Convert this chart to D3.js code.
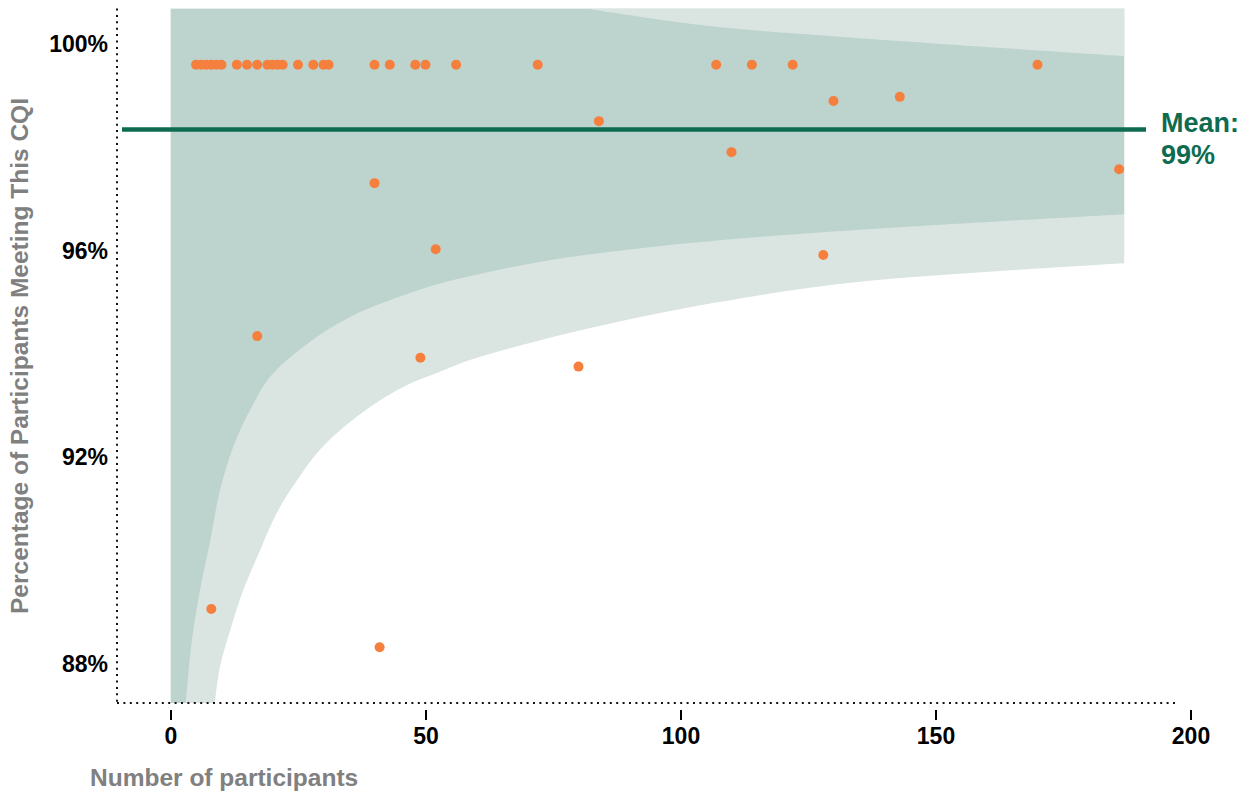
<!DOCTYPE html>
<html>
<head>
<meta charset="utf-8">
<script src="https://cdn.jsdelivr.net/npm/d3@7"></script>
<style>
  body { margin: 0; background: #fff; }
  svg { display: block; font-family: "Liberation Sans", Arial, sans-serif; }
</style>
</head>
<body>
<div id="chart"></div>
<script>
// axis ticks
const xTicks = [0, 50, 100, 150, 200]
const yTicks = [88, 92, 96, 100]

// mean line
const meanValue = 98.35
const meanLabel = ["Mean:", "99%"]

// one dot per site: participants and % meeting the CQI
const participants = [5, 6, 7, 8, 9, 10, 13, 15, 17, 19, 20, 21, 22, 25, 28, 30, 31, 40, 43, 48, 50, 56, 72, 107, 114, 122, 170,
    84, 40, 52, 17, 49, 80, 8, 41, 110, 130, 143, 128, 186]
const percentMeeting = [99.6, 99.6, 99.6, 99.6, 99.6, 99.6, 99.6, 99.6, 99.6, 99.6, 99.6, 99.6, 99.6, 99.6, 99.6, 99.6, 99.6,
    99.6, 99.6, 99.6, 99.6, 99.6, 99.6, 99.6, 99.6, 99.6, 99.6,
    98.51, 97.31, 96.03, 94.35, 93.93, 93.76, 89.07, 88.33, 97.91, 98.90, 98.98, 95.92, 97.58]

// funnel limits
const funnelStart = 0, funnelEnd = 187
const innerLowerN = [3.0, 4.2, 5.8, 7.8, 9.7, 12.3, 15.6, 19.5, 26.0, 35.2, 48.6, 52.8, 72.5, 92.1, 111.7, 135.2, 187]
const innerLowerPct = [87.25, 88.47, 89.44, 90.40, 91.37, 92.21, 92.92, 93.56, 94.14, 94.72, 95.24, 95.37, 95.79, 96.05, 96.24, 96.41, 96.71]
const outerLowerN = [8.7, 9.7, 11.7, 14.3, 17.6, 20.8, 24.8, 29.3, 36.5, 45.7, 52.8, 58.7, 72.5, 92.1, 111.7, 135.2, 187]
const outerLowerPct = [87.25, 87.95, 88.66, 89.44, 90.21, 90.92, 91.56, 92.15, 92.79, 93.37, 93.66, 93.89, 94.27, 94.72, 95.08, 95.40, 95.76]
const innerUpperN = [81.5, 105.6, 131.7, 187]
const innerUpperPct = [100.69, 100.35, 100.14, 99.77]

const W = 1253, H = 796
const x = d3.scaleLinear().domain([0, 200]).range([170.5, 1190.5])
const y = d3.scaleLinear().domain([87.25, 100.69]).range([703, 8.5])
const [yBot, yTop] = y.domain()

const svg = d3.select("#chart").append("svg").attr("width", W).attr("height", H)

svg.append("clipPath").attr("id", "plot").append("rect")
    .attr("x", x(0)).attr("y", y(yTop)).attr("width", x(200) - x(0)).attr("height", y(yBot) - y(yTop))

const funnel = svg.append("g").attr("clip-path", "url(#plot)")

function curvePath(ns, vs) {
    return d3.line().x(d => x(d[0])).y(d => y(d[1])).curve(d3.curveCatmullRom.alpha(0.5))(d3.zip(ns, vs))
}

// region above a lower limit, up to the top of the plot
function bandFromBottom(ns, vs) {
    return `M${x(funnelStart)},${y(yBot)}L` + curvePath(ns, vs).slice(1) +
        `L${x(funnelEnd)},${y(yTop)}L${x(funnelStart)},${y(yTop)}Z`
}

funnel.append("path").attr("d", bandFromBottom(outerLowerN, outerLowerPct)).attr("fill", "#dae5e1")
funnel.append("path").attr("d", bandFromBottom(innerLowerN, innerLowerPct)).attr("fill", "#bdd3cd")
funnel.append("path")
    .attr("d", curvePath(innerUpperN, innerUpperPct) + `L${x(funnelEnd)},${y(yTop)}Z`)
    .attr("fill", "#dae5e1")

// dotted axis lines
svg.append("line").attr("x1", 117).attr("x2", 117).attr("y1", y(yTop)).attr("y2", y(yBot))
    .attr("stroke", "#111").attr("stroke-width", 2).attr("stroke-dasharray", "2,4.4")
svg.append("line").attr("x1", 117).attr("x2", 1175).attr("y1", y(yBot)).attr("y2", y(yBot))
    .attr("stroke", "#111").attr("stroke-width", 2).attr("stroke-dasharray", "2,4.4")

// mean line
svg.append("line").attr("x1", 122).attr("x2", 1146).attr("y1", y(meanValue)).attr("y2", y(meanValue))
    .attr("stroke", "#0f6b50").attr("stroke-width", 4.5)

svg.append("text").attr("fill", "#0f6b50").attr("font-weight", "bold").attr("font-size", 27)
    .selectAll("tspan").data(meanLabel).join("tspan")
    .attr("x", 1161).attr("y", (d, i) => 132 + i * 32).text(d => d)

// dots
svg.append("g").selectAll("circle").data(d3.zip(participants, percentMeeting)).join("circle")
    .attr("cx", d => x(d[0])).attr("cy", d => y(d[1])).attr("r", 5).attr("fill", "#f5803e")

// axes
const xAxis = svg.append("g").attr("transform", "translate(0,710)")
    .call(d3.axisBottom(x).tickValues(xTicks).tickSize(10).tickPadding(8))
xAxis.select(".domain").remove()
xAxis.selectAll(".tick line").attr("stroke", "#000").attr("stroke-width", 2)
xAxis.selectAll("text").attr("font-size", 23).attr("font-weight", "bold").attr("fill", "#000")
    .attr("font-family", "'Liberation Sans', Arial, sans-serif")

const yAxis = svg.append("g").attr("transform", "translate(117,0)")
    .call(d3.axisLeft(y).tickValues(yTicks).tickSize(0).tickPadding(9).tickFormat(d => d + "%"))
yAxis.select(".domain").remove()
yAxis.selectAll("text").attr("font-size", 23).attr("font-weight", "bold").attr("fill", "#000")
    .attr("font-family", "'Liberation Sans', Arial, sans-serif")

// axis titles
svg.append("text").attr("x", 90).attr("y", 786).attr("fill", "#808080")
    .attr("font-size", 24.5).attr("font-weight", "bold").text("Number of participants")
svg.append("text").attr("transform", "translate(28,356) rotate(-90)").attr("text-anchor", "middle")
    .attr("fill", "#808080").attr("font-size", 24.5).attr("font-weight", "bold")
    .text("Percentage of Participants Meeting This CQI")
</script>
</body>
</html>
